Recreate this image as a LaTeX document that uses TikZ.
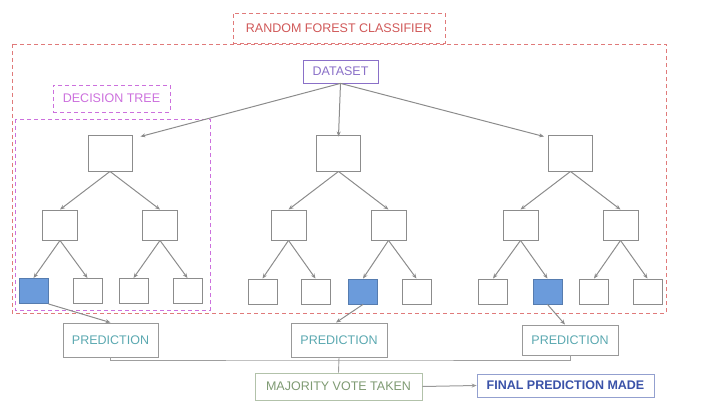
\documentclass[tikz,border=0pt]{standalone}
\usepackage{fontspec}
\setmainfont{Liberation Sans}
\usetikzlibrary{arrows.meta}
\definecolor{rfred}{HTML}{E07A7A}
\definecolor{rftext}{HTML}{D05858}
\definecolor{dsviolet}{HTML}{8A70C8}
\definecolor{dtmag}{HTML}{CC70DD}
\definecolor{treegray}{HTML}{8C8C8C}
\definecolor{leafblue}{HTML}{6B9BDB}
\definecolor{predteal}{HTML}{5AA8B0}
\definecolor{votegreen}{HTML}{7E9A72}
\definecolor{finalblue}{HTML}{3A52A8}
\begin{document}
\begin{tikzpicture}[x=1pt,y=-1pt,
  every node/.style={inner sep=0pt,font=\fontsize{12.5}{14}\selectfont},
  tbox/.style={draw=treegray,line width=0.9pt,fill=white},
  rootbox/.style={tbox,minimum width=44pt,minimum height=36pt},
  midbox/.style={tbox,minimum width=35pt,minimum height=30pt},
  leafbox/.style={tbox,minimum width=29pt,minimum height=25pt},
  chosen/.style={leafbox,fill=leafblue,draw=leafblue!80!black},
  edge/.style={draw=treegray,line width=1pt,-{Stealth[length=5pt,width=4pt]}},
  dashbox/.style={dash pattern=on 4pt off 3pt,line width=0.9pt},
  outbox/.style={draw=gray!80,line width=0.9pt,minimum height=34pt}
]
\useasboundingbox (0,0) rectangle (723,401);

% forest frame and labels
\draw[rfred,dashbox] (12,44) rectangle (666,313);
\node[draw=rfred,dashbox,text=rftext,minimum width=212pt,minimum height=30pt] (rfc) at (339,28) {RANDOM FOREST CLASSIFIER};
\node[draw=dsviolet,line width=0.8pt,text=dsviolet,fill=white,minimum width=75pt,minimum height=23pt] (ds) at (340.5,71.5) {DATASET};
\draw[dtmag,dashbox] (15,119) rectangle (210,310);
\node[draw=dtmag,dashbox,text=dtmag,minimum width=117pt,minimum height=27pt] (dt) at (111.5,98.5) {DECISION TREE};

% tree 1
\node[rootbox] (a) at (110,153) {};
\node[midbox] (a1) at (60,225) {};
\node[midbox] (a2) at (160,225) {};
\node[chosen] (a11) at (33.5,291) {};
\node[leafbox] (a12) at (87.5,291) {};
\node[leafbox] (a21) at (133.5,291) {};
\node[leafbox] (a22) at (187.5,291) {};
% tree 2
\node[rootbox] (b) at (338.5,153) {};
\node[midbox] (b1) at (288.5,225) {};
\node[midbox] (b2) at (388.5,225) {};
\node[leafbox] (b11) at (262.5,291.5) {};
\node[leafbox] (b12) at (315.5,291.5) {};
\node[chosen] (b21) at (363,291.5) {};
\node[leafbox] (b22) at (416.5,291.5) {};
% tree 3
\node[rootbox] (c) at (570.5,153) {};
\node[midbox] (c1) at (520.5,225) {};
\node[midbox] (c2) at (620.5,225) {};
\node[leafbox] (c11) at (493,291.5) {};
\node[chosen] (c12) at (547.5,291.5) {};
\node[leafbox] (c21) at (594,291.5) {};
\node[leafbox] (c22) at (647.5,291.5) {};

% dataset to roots
\draw[edge] (ds.south) -- ([xshift=8pt,yshift=-2pt]a.north east);
\draw[edge] (ds.south) -- ([yshift=-2pt]b.north);
\draw[edge] (ds.south) -- ([xshift=-4pt,yshift=-2pt]c.north west);

% tree edges
\foreach \p/\l/\r in {a/a1/a2,a1/a11/a12,a2/a21/a22,b/b1/b2,b1/b11/b12,b2/b21/b22,c/c1/c2,c1/c11/c12,c2/c21/c22}{
  \draw[edge] (\p.south) -- (\l.north);
  \draw[edge] (\p.south) -- (\r.north);
}

% predictions
\node[outbox,text=predteal,minimum width=95pt] (p1) at (110.5,340) {PREDICTION};
\node[outbox,text=predteal,minimum width=96pt] (p2) at (339,340) {PREDICTION};
\node[outbox,text=predteal,minimum width=96pt,minimum height=30pt] (p3) at (570,340) {PREDICTION};
\draw[edge] (a11.south east) -- (p1.north);
\draw[edge] (b21.south) -- ([xshift=-3pt]p2.north);
\draw[edge] (c12.south) -- ([xshift=-5pt]p3.north);

% voting
\node[draw=votegreen!60,line width=0.8pt,text=votegreen,minimum width=167pt,minimum height=27pt] (mv) at (338.5,386.5) {MAJORITY VOTE TAKEN};
\node[draw=finalblue!55,line width=0.8pt,text=finalblue,font=\fontsize{12.5}{14}\selectfont\bfseries,minimum width=177pt,minimum height=23pt] (fp) at (565.5,385.5) {FINAL PREDICTION MADE};
\coordinate (bus) at (339,360);
\draw[gray!75,line width=0.9pt] (p1.south) |- (bus) -| (p3.south);
\draw[gray!75,line width=0.9pt] (p2.south) -- (mv.north);
\draw[edge,draw=gray!80] (mv.east) -- (fp.west);
\end{tikzpicture}
\end{document}
